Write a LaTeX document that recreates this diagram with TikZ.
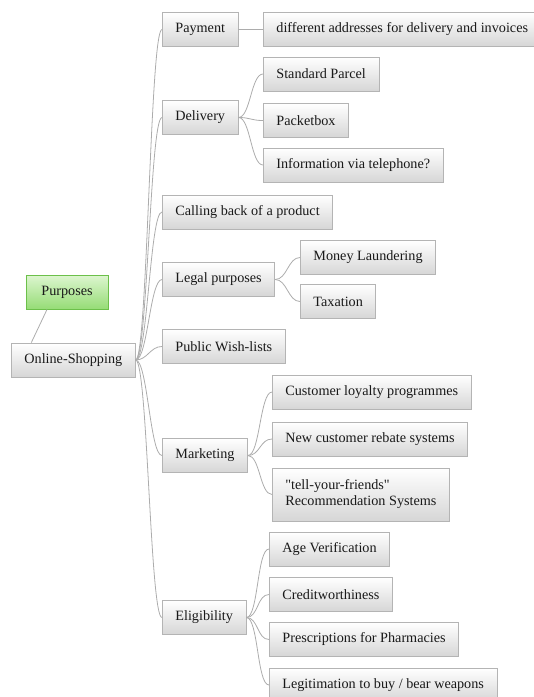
\documentclass[tikz,border=0pt]{standalone}
\usepackage{fontspec}
\setmainfont{Liberation Serif}
\usetikzlibrary{positioning}
\definecolor{boxline}{HTML}{B4B4B4}
\definecolor{boxbot}{HTML}{D6D6D6}
\definecolor{grnline}{HTML}{6CC04A}
\definecolor{grntop}{HTML}{DDF6D0}
\definecolor{grnbot}{HTML}{96DC76}
\tikzset{
  box/.style={draw=boxline, line width=0.8pt, top color=white, bottom color=boxbot,
    minimum height=34pt, inner xsep=13pt, anchor=west, text=black!90,
    font=\fontsize{14.2}{16}\selectfont},
  greenbox/.style={box, draw=grnline, line width=1pt, top color=grntop, bottom color=grnbot},
  branch/.style={draw=gray!65, line width=0.8pt,
    to path={.. controls +(12,0) and +(-12,0) .. (\tikztotarget)}},
}
\begin{document}
\begin{tikzpicture}[x=1pt,y=-1pt]
  \useasboundingbox (0,0) rectangle (534,697);
  % 根节点
  \node[greenbox, minimum width=82pt, anchor=center] (purp) at (67,292) {Purposes};
  \node[box] (root) at (11,360) {Online-Shopping};
  \draw[gray!65, line width=0.8pt] ([xshift=-20pt]purp.south) -- ([xshift=-42pt]root.north);
  % 第一层
  \node[box] (pay)   at (162,29.5)  {Payment};
  \node[box] (del)   at (162,117.5) {Delivery};
  \node[box] (call)  at (162,212)   {Calling back of a product};
  \node[box] (legal) at (162,279.5) {Legal purposes};
  \node[box] (wish)  at (162,346.5) {Public Wish-lists};
  \node[box] (mkt)   at (162,455.5) {Marketing};
  \node[box] (elig)  at (162,617.5) {Eligibility};
  \foreach \n in {pay,del,call,legal,wish,mkt,elig}
    \draw[branch] (root.east) to (\n.west);
  % 第二层
  \node[box] (addr) at (263,29.5) {different addresses for delivery and invoices};
  \draw[branch] (pay.east) to (addr.west);
  \node[box] (std)  at (263,74)    {Standard Parcel};
  \node[box] (pbox) at (263,120.5) {Packetbox};
  \node[box] (tel)  at (263,165)   {Information via telephone?};
  \foreach \n in {std,pbox,tel}
    \draw[branch] (del.east) to (\n.west);
  \node[box] (money) at (300,257.5) {Money Laundering};
  \node[box] (tax)   at (300,301.5) {Taxation};
  \foreach \n in {money,tax}
    \draw[branch] (legal.east) to (\n.west);
  \node[box] (loyal)  at (272,392)   {Customer loyalty programmes};
  \node[box] (rebate) at (272,439)   {New customer rebate systems};
  \node[box, align=left, minimum height=53pt] (tell) at (272,494.5)
    {\textquotedbl tell-your-friends\textquotedbl\\Recommendation Systems};
  \foreach \n in {loyal,rebate,tell}
    \draw[branch] (mkt.east) to (\n.west);
  \node[box] (age)    at (269,549)   {Age Verification};
  \node[box] (credit) at (269,594.5) {Creditworthiness};
  \node[box] (pharm)  at (269,639.5) {Prescriptions for Pharmacies};
  \node[box] (weap)   at (269,685)   {Legitimation to buy / bear weapons};
  \foreach \n in {age,credit,pharm,weap}
    \draw[branch] (elig.east) to (\n.west);
\end{tikzpicture}
\end{document}
